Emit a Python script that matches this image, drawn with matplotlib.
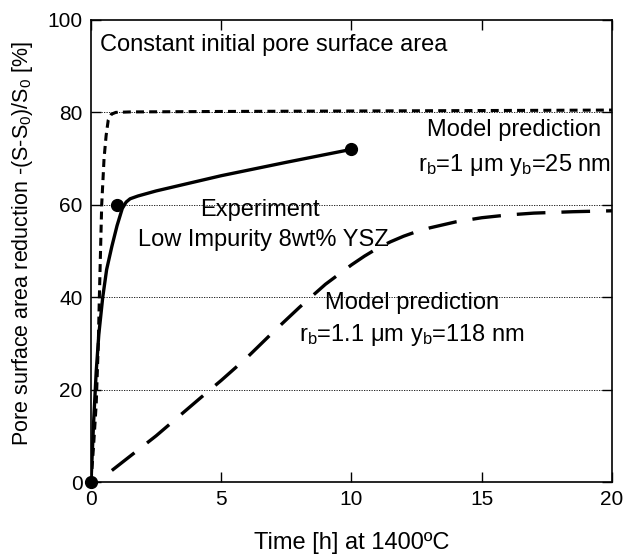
import numpy as np
import matplotlib
matplotlib.use("Agg")
import matplotlib.pyplot as plt

plt.rcParams['font.family'] = ['Liberation Sans', 'DejaVu Sans']
plt.rcParams['mathtext.fontset'] = 'custom'
plt.rcParams['mathtext.rm'] = 'Liberation Sans'
plt.rcParams['mathtext.it'] = 'Liberation Sans'

# Experiment (solid curve with measured points)
exp_t = [0, 0.1, 0.2, 0.3, 0.45, 0.6, 0.8, 1.0, 1.2, 1.35, 1.5, 1.8, 2.5, 5, 7.5, 10]
exp_s = [0, 13, 24, 32, 40, 46, 51, 55.5, 59.2, 60.6, 61.3, 61.9, 63, 66.3, 69.2, 72]
pts_t = [0, 1, 10]
pts_s = [0, 60, 72]

# Model prediction rb=1 um, yb=25 nm (short dashes)
m1_t = [0, 0.1, 0.2, 0.28, 0.32, 0.41, 0.5, 0.58, 0.66, 0.78, 0.95, 1.5, 5, 10, 15, 20]
m1_s = [0, 8, 17, 30, 40, 60, 70, 75, 78.3, 79.6, 80, 80.1, 80.2, 80.3, 80.4, 80.5]

# Model prediction rb=1.1 um, yb=118 nm (long dashes)
m2_t = [0.8, 2.5, 4.2, 5, 6, 7, 8, 9, 10, 10.5, 11, 11.5, 12, 12.5, 13, 14, 15, 16, 17, 18.5, 20]
m2_s = [2.5, 10, 18.2, 22, 27, 32.5, 37.8, 42.8, 47.0, 48.9, 50.6, 52.0, 53.2, 54.2, 55.0, 56.3, 57.2, 57.8, 58.2, 58.5, 58.7]

fig = plt.figure(figsize=(6.26, 5.55), dpi=100)
ax = fig.add_axes([0.1454, 0.1315, 0.8322, 0.8325])

for y in [20, 40, 60, 80]:
    ax.axhline(y, color='black', lw=0.6, ls=(0, (1.5, 1.5)), zorder=1)

ax.plot(exp_t, exp_s, color='black', lw=2.4, solid_capstyle='round', solid_joinstyle='round', zorder=3)
ax.plot(pts_t, pts_s, 'o', color='black', ms=8.5, clip_on=False, zorder=4)
ax.plot(m1_t, m1_s, color='black', lw=2.2, ls=(0, (2.6, 1.7)), zorder=2)
ax.plot(m2_t, m2_s, color='black', lw=2.4, ls=(0, (8.6, 4.8)), zorder=2)

ax.set_xlim(0, 20)
ax.set_ylim(0, 100)
ax.set_xticks([0, 5, 10, 15, 20])
ax.set_yticks([0, 20, 40, 60, 80, 100])
ax.tick_params(direction='in', top=True, right=True, labelsize=15, length=7, width=1, pad=6)
for s in ax.spines.values():
    s.set_linewidth(1.2)

fs = 17
ax.set_xlabel('Time [h] at 1400ºC', fontsize=fs, labelpad=16)
ax.set_ylabel('Pore surface area reduction -(S-S$_0$)/S$_0$ [%]', fontsize=15.5, labelpad=8)
ax.yaxis.set_label_coords(-0.108, 0.515)

ax.text(0.35, 94.6, 'Constant initial pore surface area', fontsize=fs, va='center', ha='left')
ax.text(16.25, 76.2, 'Model prediction', fontsize=fs, ha='center', va='center')
ax.text(16.25, 68.6, r'r$_{\rm b}$=1 μm y$_{\rm b}$=25 nm', fontsize=fs, ha='center', va='center')
ax.text(6.5, 58.9, 'Experiment', fontsize=fs, ha='center', va='center')
ax.text(6.6, 52.4, 'Low Impurity 8wt% YSZ', fontsize=fs, ha='center', va='center')
ax.text(12.33, 38.7, 'Model prediction', fontsize=fs, ha='center', va='center')
ax.text(12.33, 31.8, r'r$_{\rm b}$=1.1 μm y$_{\rm b}$=118 nm', fontsize=fs, ha='center', va='center')

fig.savefig('out.png', dpi=100)
